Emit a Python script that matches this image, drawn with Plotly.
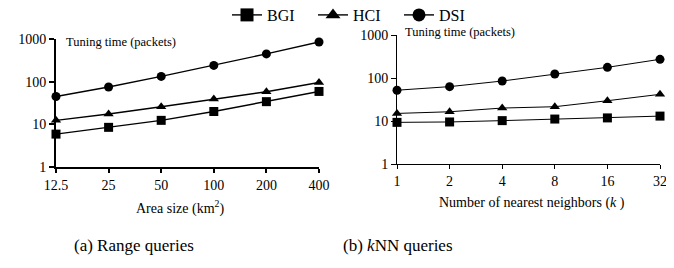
import plotly.graph_objects as go

area_sizes = [12.5, 25, 50, 100, 200, 400]
area_labels = ["12.5", "25", "50", "100", "200", "400"]
knn_k = [1, 2, 4, 8, 16, 32]
knn_labels = ["1", "2", "4", "8", "16", "32"]

range_bgi = [5.9, 8.5, 12.4, 20, 34, 59]
range_hci = [12.4, 17.4, 25.8, 39, 58, 96]
range_dsi = [45, 75, 133, 240, 447, 850]

knn_bgi = [9.3, 9.5, 10.2, 11.1, 11.8, 13]
knn_hci = [15, 16.4, 20, 21.5, 29.6, 41.7]
knn_dsi = [52, 63, 85, 124, 177, 272]

series = [("BGI", "square", range_bgi, knn_bgi, 9),
          ("HCI", "triangle-up", range_hci, knn_hci, 9),
          ("DSI", "circle", range_dsi, knn_dsi, 9)]

FONT = "Liberation Serif, Times New Roman, serif"
# page body has an 8px margin; figure is placed at (8, 8)
OFF = 8
W, H = 674 - OFF, 268 - OFF

fig = go.Figure()
for name, sym, rv, kv, ms in series:
    fig.add_trace(go.Scatter(x=area_sizes, y=rv, name=name, mode="lines+markers",
                             line=dict(color="black", width=1.4),
                             marker=dict(symbol=sym, size=ms, color="black"),
                             cliponaxis=False, showlegend=False, xaxis="x", yaxis="y"))
    fig.add_trace(go.Scatter(x=knn_k, y=kv, name=name, mode="lines+markers",
                             line=dict(color="black", width=1),
                             marker=dict(symbol=sym, size=ms, color="black"),
                             cliponaxis=False, showlegend=False, xaxis="x2", yaxis="y2"))
    fig.add_trace(go.Scatter(x=[None], y=[None], name=name, mode="lines+markers",
                             line=dict(color="black", width=1.4),
                             marker=dict(symbol=sym, size=13, color="black"),
                             showlegend=True, xaxis="x", yaxis="y"))

def xd(a, b):
    return [(a - OFF) / W, (b - OFF) / W]
def yd(top, bot):
    return [(H - (bot - OFF)) / H, (H - (top - OFF)) / H]
def px(x):
    return (x - OFF) / W
def py(y):
    return (H - (y - OFF)) / H

yticks = [1, 10, 100, 1000]
ylabels = ["1", "10", "100", "1000"]
common_y = dict(type="log", range=[0, 3], tickvals=yticks, ticktext=ylabels,
                ticks="outside", ticklen=5, tickcolor="black", showgrid=False,
                zeroline=False, showline=True, linecolor="black",
                tickfont=dict(family=FONT, size=14, color="black"))
common_x = dict(type="log", ticks="outside", ticklen=4, tickcolor="black",
                showgrid=False, zeroline=False, showline=True, linecolor="black",
                tickfont=dict(family=FONT, size=14, color="black"))

fig.update_layout(
    width=W, height=H, margin=dict(l=0, r=0, t=0, b=0, autoexpand=False),
    paper_bgcolor="white", plot_bgcolor="white",
    font=dict(family=FONT, color="black"),
    xaxis=dict(common_x, domain=xd(56, 319), range=[1.09691, 2.60206],
               tickvals=area_sizes, ticktext=area_labels, linewidth=2, tickwidth=1.5,
               anchor="y"),
    yaxis=dict(common_y, domain=yd(39, 167), linewidth=2, tickwidth=1.5, anchor="x"),
    xaxis2=dict(common_x, domain=xd(397, 660), range=[0, 1.50515],
                tickvals=knn_k, ticktext=knn_labels, linewidth=1, tickwidth=1,
                anchor="y2"),
    yaxis2=dict(common_y, domain=yd(35, 164), linewidth=1, tickwidth=1, anchor="x2"),
    legend=dict(orientation="h", x=px(356), xanchor="center", y=py(15), yanchor="middle",
                font=dict(family=FONT, size=16), itemwidth=30,
                entrywidth=41, entrywidthmode="pixels",
                bgcolor="rgba(0,0,0,0)"),
    showlegend=True,
)

fig.add_annotation(text="Area size (km<sup>2</sup>)", xref="paper", yref="paper",
                   x=px(180), y=py(208), xanchor="center", yanchor="middle",
                   showarrow=False, font=dict(family=FONT, size=14))
fig.add_annotation(text="Number of nearest neighbors (<i>k</i> )", xref="paper", yref="paper",
                   x=px(532), y=py(203), xanchor="center", yanchor="middle",
                   showarrow=False, font=dict(family=FONT, size=14))
fig.add_annotation(text="Tuning time (packets)", xref="paper", yref="paper",
                   x=px(64), y=py(42), xanchor="left", yanchor="middle", showarrow=False,
                   font=dict(family=FONT, size=12.5))
fig.add_annotation(text="Tuning time (packets)", xref="paper", yref="paper",
                   x=px(403), y=py(32), xanchor="left", yanchor="middle", showarrow=False,
                   font=dict(family=FONT, size=12.5))
fig.add_annotation(text="(a) Range queries", xref="paper", yref="paper",
                   x=px(134), y=py(245), xanchor="center", yanchor="middle",
                   showarrow=False, font=dict(family=FONT, size=17))
fig.add_annotation(text="(b) <i>k</i>NN queries", xref="paper", yref="paper",
                   x=px(398), y=py(245), xanchor="center", yanchor="middle",
                   showarrow=False, font=dict(family=FONT, size=17))

fig.write_html("out.html")
